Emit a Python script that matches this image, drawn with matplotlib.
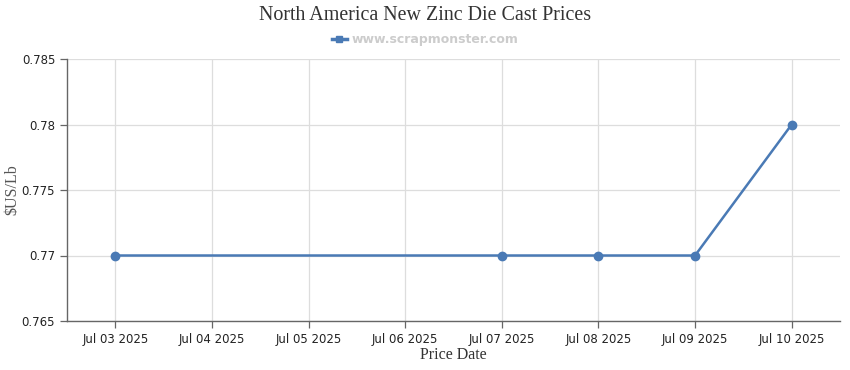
import matplotlib
matplotlib.use("Agg")
import matplotlib.pyplot as plt
from matplotlib.lines import Line2D

categories = ["Jul 03 2025", "Jul 04 2025", "Jul 05 2025", "Jul 06 2025",
              "Jul 07 2025", "Jul 08 2025", "Jul 09 2025", "Jul 10 2025"]
point_dates = ["Jul 03 2025", "Jul 07 2025", "Jul 08 2025", "Jul 09 2025", "Jul 10 2025"]
point_values = [0.77, 0.77, 0.77, 0.77, 0.78]
y_ticks = [0.765, 0.77, 0.775, 0.78, 0.785]
y_tick_labels = ["0.765", "0.77", "0.775", "0.78", "0.785"]

line_color = "#4a7ab5"

fig = plt.figure(figsize=(8.5, 3.7), dpi=100)
ax = fig.add_axes([67/850, 1-321/370, (840-67)/850, (321-59)/370])

xs = [categories.index(d) for d in point_dates]
ax.plot(xs, point_values, color=line_color, lw=1.8, marker="o", ms=6, zorder=3)

ax.set_xlim(-0.5, len(categories) - 0.5)
ax.set_ylim(0.765, 0.785)
ax.set_xticks(range(len(categories)))
ax.set_xticklabels(categories)
ax.set_yticks(y_ticks)
ax.set_yticklabels(y_tick_labels)

ax.grid(True, color="#dddddd", lw=0.9)
ax.set_axisbelow(True)
for s in ["top", "right"]:
    ax.spines[s].set_visible(False)
for s in ["left", "bottom"]:
    ax.spines[s].set_color("#666666")
    ax.spines[s].set_linewidth(1.0)
ax.tick_params(axis="both", colors="#666666", labelcolor="#222222", labelsize=8.5,
               length=5, width=0.9)
for lab in ax.get_xticklabels() + ax.get_yticklabels():
    lab.set_family("DejaVu Sans")

ax.set_xlabel("Price Date", family="Liberation Serif", fontsize=11.5, color="#333333", labelpad=1)
ax.set_ylabel("$US/Lb", family="Liberation Serif", fontsize=11.5, color="#555555")
ax.yaxis.set_label_coords(-47/773, 0.5)

fig.text(0.5, 1-16/370, "North America New Zinc Die Cast Prices", ha="center", va="center",
         family="Liberation Serif", fontsize=14.4, color="#333333")

handle = Line2D([], [], color=line_color, lw=2.5, marker="s", ms=5)
leg = fig.legend([handle], ["www.scrapmonster.com"], loc="center", bbox_to_anchor=(0.5, 1-40/370),
                 frameon=False, handlelength=1.2, handletextpad=0.4,
                 prop={"family": "DejaVu Sans", "weight": "bold", "size": 9})
for t in leg.get_texts():
    t.set_color("#cccccc")

fig.savefig("out.png", dpi=100)
